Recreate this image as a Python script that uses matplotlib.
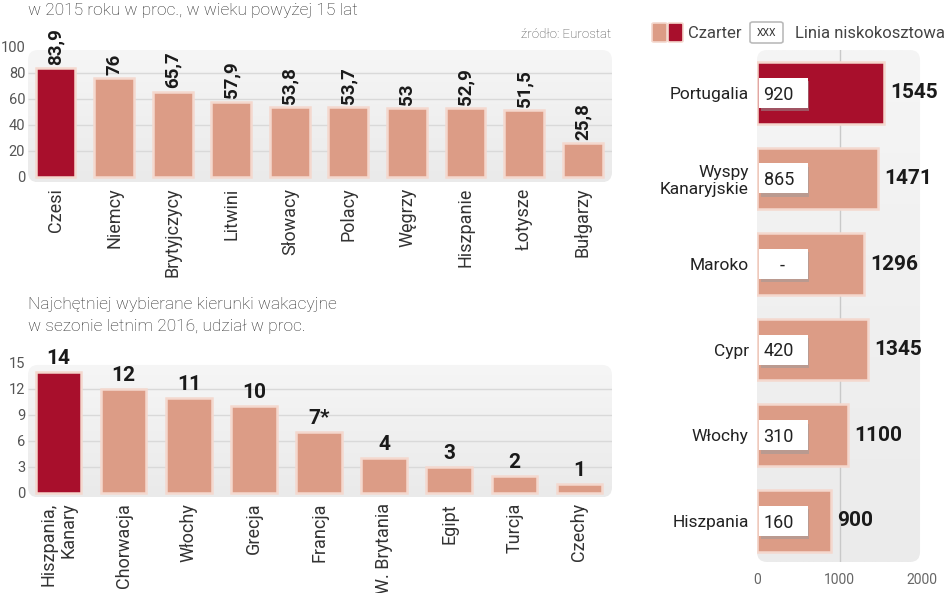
import matplotlib
matplotlib.use("Agg")
import matplotlib.pyplot as plt
import numpy as np
from matplotlib.patches import FancyBboxPatch
from matplotlib.colors import LinearSegmentedColormap

# top chart: share of people travelling, 2015
nat_labels = ["Czesi", "Niemcy", "Brytyjczycy", "Litwini", "Słowacy",
              "Polacy", "Węgrzy", "Hiszpanie", "Łotysze", "Bułgarzy"]
nat_values = [83.9, 76, 65.7, 57.9, 53.8, 53.7, 53, 52.9, 51.5, 25.8]
nat_text = ["83,9", "76", "65,7", "57,9", "53,8", "53,7", "53", "52,9",
            "51,5", "25,8"]
nat_ticks = [0, 20, 40, 60, 80, 100]

# bottom chart: destinations, summer 2016
dest_labels = ["Hiszpania,\nKanary", "Chorwacja", "Włochy", "Grecja",
               "Francja", "W. Brytania", "Egipt", "Turcja", "Czechy"]
dest_values = [14, 12, 11, 10, 7, 4, 3, 2, 1]
dest_text = ["14", "12", "11", "10", "7*", "4", "3", "2", "1"]
dest_ticks = [0, 3, 6, 9, 12, 15]

# right chart: prices, charter vs low-cost
price_labels = ["Portugalia", "Wyspy\nKanaryjskie", "Maroko", "Cypr",
                "Włochy", "Hiszpania"]
charter = [1545, 1471, 1296, 1345, 1100, 900]
lowcost = ["920", "865", "-", "420", "310", "160"]
price_ticks = [0, 1000, 2000]

W_PX, H_PX = 948, 593
DARK = "#A80F2C"
SALMON = "#DC9C86"
EDGE = "#F4D8CE"
BOLD = ["Roboto", "DejaVu Sans"]
SANS = ["Roboto", "DejaVu Sans"]

plt.rcParams["font.family"] = SANS


def panel(ax, x0, x1, y0, y1, top_col, bot_col, r=10):
    """Rounded grey gradient background in axes coordinates."""
    pos = ax.get_position()
    W = pos.width * W_PX
    H = pos.height * H_PX
    patch = FancyBboxPatch((x0, y0), x1 - x0, y1 - y0,
                           boxstyle=f"round,pad=0,rounding_size={r / W}",
                           mutation_aspect=W / H, transform=ax.transAxes,
                           facecolor="none", edgecolor="none", zorder=0)
    ax.add_patch(patch)
    grad = np.linspace(0, 1, 256)[:, None]
    cmap = LinearSegmentedColormap.from_list("g", [bot_col, top_col])
    im = ax.imshow(grad, extent=(x0, x1, y0, y1), transform=ax.transAxes,
                   cmap=cmap, origin="lower", aspect="auto", zorder=0,
                   interpolation="bilinear")
    im.set_clip_path(patch)


def strip(ax):
    for s in ax.spines.values():
        s.set_visible(False)
    ax.tick_params(length=0, colors="#555555")


fig = plt.figure(figsize=(W_PX / 100, H_PX / 100), dpi=100)

# ---------- top chart ----------
ax1 = fig.add_axes([28 / W_PX, 1 - 182.2 / H_PX, 584 / W_PX, 135.85 / H_PX])
panel(ax1, 0, 1, 0, 0.973, "#F6F6F6", "#EAEAEA")
x1 = np.arange(len(nat_values))
ax1.hlines(nat_ticks[1:-1], -0.47, 9.5, color="#D9D9D9", lw=1, zorder=1)
cols = [DARK] + [SALMON] * (len(nat_values) - 1)
ax1.bar(x1, nat_values, width=0.68, color=cols, edgecolor=EDGE, lw=1.8,
        zorder=2)
for xi, v, t in zip(x1, nat_values, nat_text):
    ax1.text(xi, v + 2.5, t, rotation=90, ha="center", va="bottom",
             fontsize=13.5, fontweight="bold", family=BOLD, color="#1a1a1a")
ax1.set_xlim(-0.47, 9.5)
ax1.set_ylim(-4, 100.5)
ax1.set_yticks(nat_ticks)
ax1.set_xticks(x1, nat_labels, rotation=90, fontsize=13)
ax1.tick_params(axis="y", labelsize=10.5, pad=2)
ax1.tick_params(axis="x", pad=4)
strip(ax1)
ax1.tick_params(axis="x", colors="#333333")

fig.text(28 / W_PX, 1 - 10 / H_PX,
         "w 2015 roku w proc., w wieku powyżej 15 lat",
         fontsize=12.5, fontweight="light", color="#2a2a2a", va="center")
fig.text(611 / W_PX, 1 - 35 / H_PX, "źródło: Eurostat", fontsize=9.5,
         fontweight="light", color="#444444", ha="right", va="center")

# ---------- bottom chart ----------
ax2 = fig.add_axes([28 / W_PX, 1 - 497.3 / H_PX, 584 / W_PX, 137 / H_PX])
panel(ax2, 0, 1, 0, 0.966, "#F6F6F6", "#EAEAEA")
x2 = np.arange(len(dest_values))
ax2.hlines(dest_ticks[1:-1], -0.47, 8.5, color="#D9D9D9", lw=1, zorder=1)
cols = [DARK] + [SALMON] * (len(dest_values) - 1)
ax2.bar(x2, dest_values, width=0.7, color=cols, edgecolor=EDGE, lw=1.8,
        zorder=2)
for xi, v, t in zip(x2, dest_values, dest_text):
    ax2.text(xi, v + 0.45, t, ha="center", va="bottom", fontsize=15,
             fontweight="bold", family=BOLD, color="#1a1a1a")
ax2.set_xlim(-0.47, 8.5)
ax2.set_ylim(-0.5, 15.3)
ax2.set_yticks(dest_ticks)
ax2.set_xticks(x2, dest_labels, rotation=90, fontsize=13)
for lab in ax2.get_xticklabels():
    lab.set_multialignment("right")
ax2.tick_params(axis="y", labelsize=10.5, pad=2)
ax2.tick_params(axis="x", pad=4)
strip(ax2)
ax2.tick_params(axis="x", colors="#333333")

fig.text(28 / W_PX, 1 - 305 / H_PX, "Najchętniej wybierane kierunki wakacyjne",
         fontsize=12.5, fontweight="light", color="#2a2a2a", va="center")
fig.text(28 / W_PX, 1 - 326 / H_PX, "w sezonie letnim 2016, udział w proc.",
         fontsize=12.5, fontweight="light", color="#2a2a2a", va="center")

# ---------- right chart ----------
ax3 = fig.add_axes([757 / W_PX, 1 - 562 / H_PX, 165 / W_PX, 512 / H_PX])
panel(ax3, 0, 0.988, 0, 1, "#F5F5F5", "#EBEBEB")
y3 = np.arange(len(charter))
ax3.axvline(1000, color="#C9C9C9", lw=1, zorder=1)
cols = [DARK] + [SALMON] * (len(charter) - 1)
ax3.barh(y3, charter, height=0.72, color=cols, edgecolor=EDGE, lw=1.8,
         zorder=2)
# white label boxes for low-cost prices
ax3.barh(y3 + 0.04, 590, left=45, height=0.35, color="#9a9a9a", alpha=0.5,
         zorder=3)
ax3.barh(y3, 590, left=30, height=0.35, color="white", zorder=4)
for yi, v, t in zip(y3, charter, lowcost):
    ax3.text(80 if t != "-" else 300, yi + 0.02, t,
             ha="left" if t != "-" else "center", va="center", fontsize=13,
             color="#222222", zorder=5)
    ax3.text(v + 75, yi, str(v), ha="left", va="center", fontsize=15,
             fontweight="bold", family=BOLD, color="#1a1a1a",
             clip_on=False)
ax3.set_xlim(0, 2000)
ax3.set_ylim(5.48, -0.50)
ax3.set_xticks(price_ticks, [str(t) for t in price_ticks])
ax3.set_yticks(y3, price_labels, fontsize=12.5)
for lab in ax3.get_yticklabels():
    lab.set_multialignment("right")
strip(ax3)
ax3.tick_params(axis="y", pad=6, colors="#222222")
ax3.tick_params(axis="x", labelsize=10, pad=8, colors="#666666")


# legend
def px(x, y):
    return x / W_PX, 1 - y / H_PX


for (xa, col) in [(652, SALMON), (668, DARK)]:
    fig.patches.append(FancyBboxPatch(px(xa, 42), 15 / W_PX, 19 / H_PX,
                                      boxstyle="round,pad=0,rounding_size=0.002",
                                      transform=fig.transFigure,
                                      facecolor=col, edgecolor=EDGE, lw=1.2))
fig.text(*px(688, 33), "Czarter", fontsize=12, color="#444444", va="center")
fig.patches.append(FancyBboxPatch(px(750, 43), 33 / W_PX, 21 / H_PX,
                                  boxstyle="round,pad=0,rounding_size=0.003",
                                  transform=fig.transFigure,
                                  facecolor="white", edgecolor="#BBBBBB", lw=1.2))
fig.text(*px(766.5, 33), "XXX", fontsize=7.5, color="#333333", ha="center",
         va="center")
fig.text(*px(795, 33), "Linia niskokosztowa", fontsize=12, color="#444444",
         va="center")

fig.savefig("out.png", dpi=100)
